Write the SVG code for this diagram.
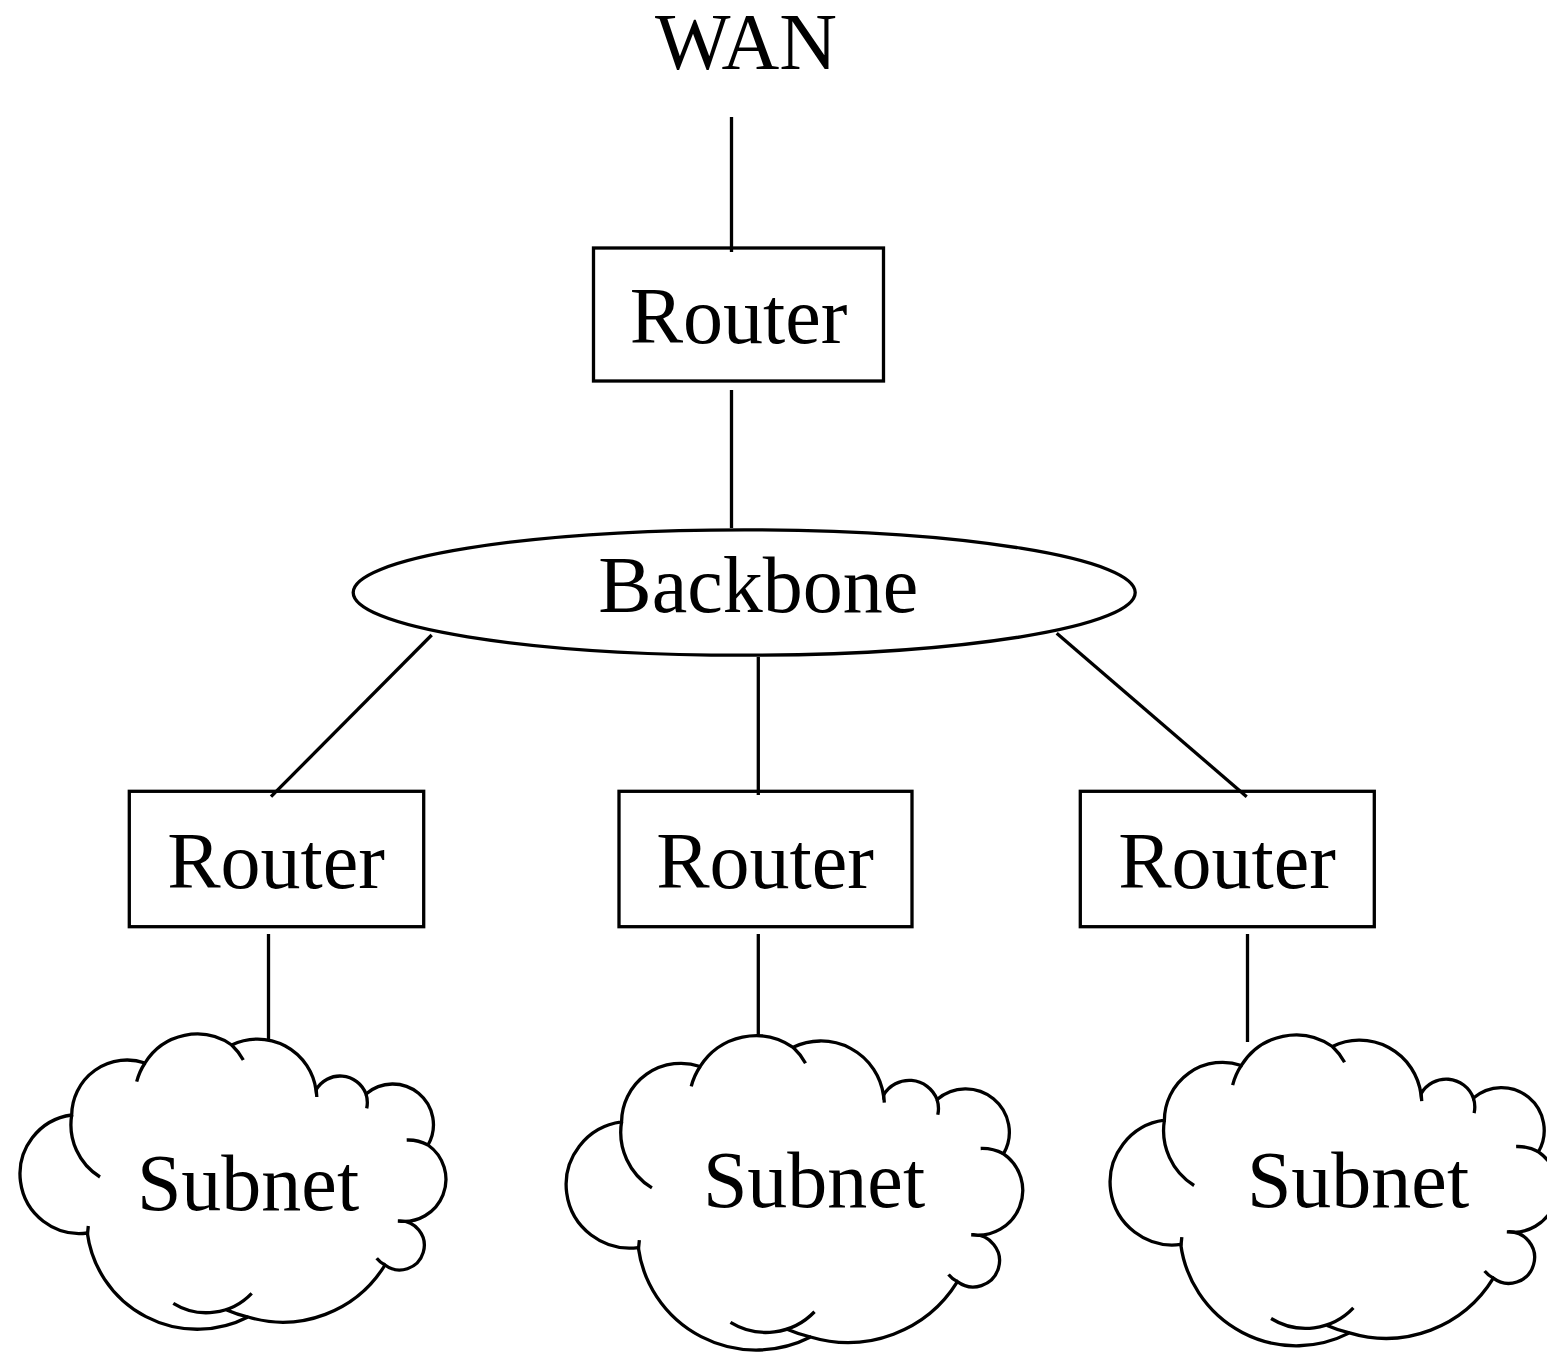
<svg xmlns="http://www.w3.org/2000/svg" width="1547" height="1353" viewBox="0 0 1547 1353">
<defs>
<style>
.t{font-family:"Liberation Serif","Times New Roman",serif;font-size:80px;fill:#000;text-anchor:middle}
.s{fill:none;stroke:#000;stroke-width:3.3}
.c{fill:#fff;stroke:#000;stroke-width:3.3;vector-effect:non-scaling-stroke}
.ci{fill:none;stroke:#000;stroke-width:3.3;vector-effect:non-scaling-stroke}
</style>
<g id="cloudShape">
<path class="c" d="M71.7 1115 A59 59 0 0 0 87.3 1233 A111 111 0 0 0 248 1317 A120 120 0 0 0 385 1265 A24.5 24.5 0 1 0 398 1221 A42 42 0 0 0 428 1145 A40.7 40.7 0 0 0 366 1094 A27.7 27.7 0 0 0 316 1090 A59 59 0 0 0 231.7 1045 A61 61 0 0 0 145 1063 A55.4 55.4 0 0 0 71.7 1115 Z"/>
<path class="ci" d="M71.7 1115 A61.6 61.6 0 0 0 100 1177 M145 1063 A61 61 0 0 0 136.7 1081.7 M243.3 1060 A61 61 0 0 0 231.7 1045 M316.2 1089 L316.8 1097 M366.7 1108.3 A27.7 27.7 0 0 0 366 1094 M428 1145 A42 42 0 0 0 406.7 1140 M376.7 1258.3 A24.5 24.5 0 0 0 385 1265 M226.7 1310 A120 120 0 0 0 248 1317 M173.3 1303.3 A62.7 62.7 0 0 0 251.7 1293.3 M88.3 1226 L87.5 1234"/>
</g>
</defs>
<g id="connectors" class="s">
<line x1="731.5" y1="117" x2="731.5" y2="252"/>
<line x1="731.5" y1="390" x2="731.5" y2="528"/>
<line x1="431.7" y1="635" x2="271" y2="796.7"/>
<line x1="758.3" y1="657" x2="758.3" y2="795"/>
<line x1="1056.7" y1="633.3" x2="1246.7" y2="796.7"/>
<line x1="268.5" y1="934" x2="268.5" y2="1040"/>
<line x1="758.3" y1="934" x2="758.3" y2="1040"/>
<line x1="1247.5" y1="934" x2="1247.5" y2="1042"/>
</g>
<g id="wan"><text class="t" x="746" y="69">WAN</text></g>
<g id="router-top">
<rect class="s" x="593.5" y="248" width="290" height="133"/>
<text class="t" x="738.5" y="343.3">Router</text>
</g>
<g id="backbone">
<ellipse class="s" cx="744.2" cy="592.5" rx="391" ry="62.7"/>
<text class="t" x="758.3" y="611.7">Backbone</text>
</g>
<g id="router-1">
<rect class="s" x="129.3" y="791.3" width="294.4" height="135.4"/>
<text class="t" x="276" y="888.3">Router</text>
</g>
<g id="router-2">
<rect class="s" x="619" y="791.3" width="293" height="135.4"/>
<text class="t" x="765" y="888.3">Router</text>
</g>
<g id="router-3">
<rect class="s" x="1080.3" y="791.3" width="294" height="135.4"/>
<text class="t" x="1227" y="888.3">Router</text>
</g>
<g id="subnet-1">
<use href="#cloudShape"/>
<text class="t" x="248" y="1210">Subnet</text>
</g>
<g id="subnet-2">
<use href="#cloudShape" transform="translate(544.7 -65.6) scale(1.072 1.065)"/>
<text class="t" x="814" y="1206.7">Subnet</text>
</g>
<g id="subnet-3">
<use href="#cloudShape" transform="translate(1089.1 -53.9) scale(1.05 1.053)"/>
<text class="t" x="1358" y="1206.7">Subnet</text>
</g>
</svg>
